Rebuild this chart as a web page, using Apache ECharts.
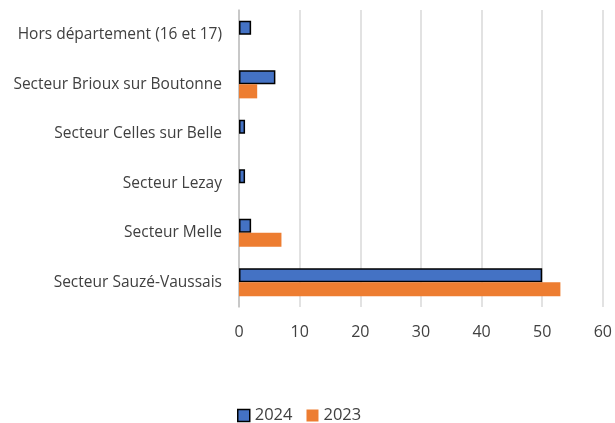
<!DOCTYPE html>
<html>
	<head>
		<meta charset="utf-8">
		<title>Secteurs</title>
		<script src="https://cdn.jsdelivr.net/npm/echarts@6/dist/echarts.min.js"></script>
		<style>
			html, body { margin: 0; padding: 0; background: #fff; }
			#chart { width: 615px; height: 423px; }
		</style>
	</head>
	<body>
	<div id="chart"></div>
		<script type="text/javascript">
			// données
			var secteurs = ["Hors département (16 et 17)", "Secteur Brioux sur Boutonne", "Secteur Celles sur Belle",
				"Secteur Lezay", "Secteur Melle", "Secteur Sauzé-Vaussais"];
			var valeurs2024 = [2, 6, 1, 1, 2, 50];
			var valeurs2023 = [0, 3, 0, 0, 7, 53];
			var ticksX = [0, 10, 20, 30, 40, 50, 60];

			var chart = echarts.init(document.getElementById('chart'));
			var police = 'Open Sans';
			var option = {
				animation: false,
				grid: { left: 239, right: 11, top: 10, bottom: 116, containLabel: false },
				legend: {
					top: 402,
					left: 232,
					itemWidth: 12,
					itemHeight: 12,
					itemGap: 14,
					textStyle: { color: '#404040', fontSize: 16.5, fontFamily: police },
					data: [
						{ name: '2024', icon: 'rect', itemStyle: { borderColor: '#000', borderWidth: 1.5 } },
						{ name: '2023', icon: 'rect' }
					]
				},
				xAxis: {
					type: 'value',
					min: ticksX[0],
					max: ticksX[ticksX.length - 1],
					interval: 10,
					axisLine: { show: false },
					axisTick: { show: false },
					axisLabel: { color: '#404040', fontSize: 16, fontFamily: police, margin: 17 },
					splitLine: { lineStyle: { color: '#d9d9d9', width: 1.5 } }
				},
				yAxis: {
					type: 'category',
					inverse: true,
					data: secteurs,
					axisLine: { show: true, lineStyle: { color: '#bfbfbf', width: 1.5 } },
					axisTick: { show: false },
					axisLabel: { color: '#404040', fontSize: 15.5, fontFamily: police, margin: 17 }
				},
				series: [
					{
						name: '2024',
						type: 'bar',
						data: valeurs2024,
						barGap: '0%',
						barCategoryGap: '43%',
						itemStyle: { color: '#4472c4', borderColor: '#000', borderWidth: 1.5 }
					},
					{
						name: '2023',
						type: 'bar',
						data: valeurs2023,
						itemStyle: { color: '#ed7d31' }
					}
				]
			};
			chart.setOption(option);
		</script>
	</body>
</html>
